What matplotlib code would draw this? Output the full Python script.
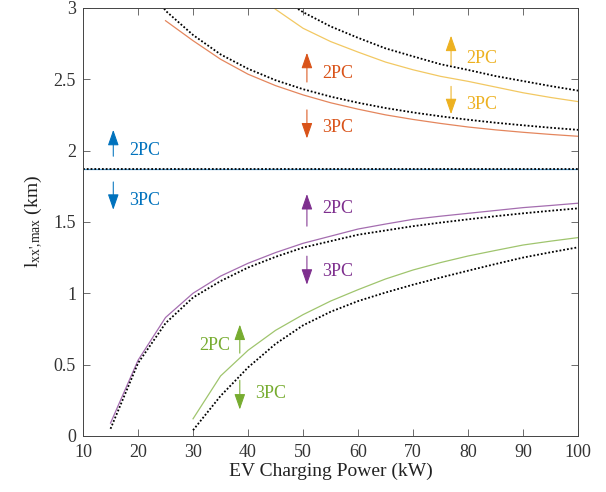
import matplotlib
matplotlib.use("Agg")
import matplotlib.pyplot as plt
import numpy as np

plt.rcParams["font.family"] = ["Liberation Serif", "DejaVu Serif"]
plt.rcParams["mathtext.fontset"] = "custom"
plt.rcParams["mathtext.rm"] = "Liberation Serif"
plt.rcParams["mathtext.it"] = "Liberation Serif:italic"

# EV charging power (kW), 5 kW steps
p_red = [25, 30, 35, 40, 45, 50, 55, 60, 65, 70, 75, 80, 85, 90, 95, 100]
red_2pc = [2.91, 2.77, 2.64, 2.535, 2.455, 2.39, 2.335, 2.29, 2.25, 2.218,
           2.19, 2.165, 2.145, 2.128, 2.113, 2.10]
p_red_dot = [20, 25, 30, 35, 40, 45, 50, 55, 60, 65, 70, 75, 80, 85, 90, 95, 100]
red_dot = [3.28, 2.98, 2.81, 2.674, 2.573, 2.493, 2.43, 2.378, 2.335, 2.298,
           2.267, 2.24, 2.216, 2.195, 2.177, 2.16, 2.145]

p_yel = [40, 45, 50, 55, 60, 65, 70, 75, 80, 85, 90, 95, 100]
yel_2pc = [3.15, 2.99, 2.857, 2.764, 2.69, 2.62, 2.566, 2.52, 2.485, 2.445,
           2.405, 2.372, 2.343]
p_yel_dot = [45, 50, 55, 60, 65, 70, 75, 80, 85, 90, 95, 100]
yel_dot = [3.09, 2.97, 2.87, 2.79, 2.716, 2.66, 2.605, 2.565, 2.522, 2.487,
           2.452, 2.42]

p_blue = [10, 100]
blue_level = [1.87, 1.87]

p_pur = [15, 20, 25, 30, 35, 40, 45, 50, 55, 60, 65, 70, 75, 80, 85, 90, 95, 100]
pur_2pc = [0.09, 0.53, 0.83, 1.00, 1.12, 1.21, 1.285, 1.35, 1.40, 1.45, 1.485,
           1.518, 1.54, 1.56, 1.58, 1.60, 1.615, 1.631]
pur_dot = [0.05, 0.51, 0.79, 0.97, 1.085, 1.18, 1.255, 1.32, 1.365, 1.41, 1.44,
           1.47, 1.495, 1.518, 1.54, 1.56, 1.578, 1.595]

p_grn = [30, 35, 40, 45, 50, 55, 60, 65, 70, 75, 80, 85, 90, 95, 100]
grn_2pc = [0.12, 0.42, 0.60, 0.74, 0.85, 0.945, 1.025, 1.10, 1.163, 1.215,
           1.261, 1.30, 1.338, 1.365, 1.39]
grn_dot = [0.04, 0.28, 0.48, 0.645, 0.775, 0.87, 0.945, 1.005, 1.06, 1.11,
           1.158, 1.205, 1.25, 1.287, 1.322]

BLUE = "#0072BD"
RED = "#D95319"
YEL = "#EDB120"
PUR = "#7E2F8E"
GRN = "#77AC30"

fig = plt.figure(figsize=(6.06, 4.92), dpi=100)
ax = fig.add_axes([0.137, 0.114, 0.817, 0.870])

solid_kw = dict(lw=0.9, alpha=0.7)
dot_kw = dict(color="black", ls=(0, (1, 1.1)), lw=1.3)

ax.plot(p_blue, blue_level, color=BLUE, **solid_kw)
ax.plot(p_blue, blue_level, **dot_kw)
ax.plot(p_red, red_2pc, color=RED, **solid_kw)
ax.plot(p_red_dot, red_dot, **dot_kw)
ax.plot(p_yel, yel_2pc, color=YEL, **solid_kw)
ax.plot(p_yel_dot, yel_dot, **dot_kw)
ax.plot(p_pur, pur_2pc, color=PUR, **solid_kw)
ax.plot(p_pur, pur_dot, **dot_kw)
ax.plot(p_grn, grn_2pc, color=GRN, **solid_kw)
ax.plot(p_grn, grn_dot, **dot_kw)


def region_arrow(x, y0, y1, color):
    # thin shaft, narrow pointed head
    ax.annotate("", xy=(x, y1), xytext=(x, y0),
                arrowprops=dict(arrowstyle="-|>,head_width=0.28,head_length=0.8",
                                mutation_scale=12, color=color, lw=0.75,
                                shrinkA=0, shrinkB=0))


region_arrow(15.5, 1.96, 2.145, BLUE)
region_arrow(15.5, 1.78, 1.585, BLUE)
ax.text(18.4, 2.0, "2PC", color=BLUE, fontsize=13, va="center")
ax.text(18.4, 1.65, "3PC", color=BLUE, fontsize=13, va="center")

region_arrow(50.7, 2.48, 2.685, RED)
region_arrow(50.7, 2.285, 2.085, RED)
ax.text(53.4, 2.54, "2PC", color=RED, fontsize=13, va="center")
ax.text(53.4, 2.16, "3PC", color=RED, fontsize=13, va="center")

region_arrow(76.9, 2.60, 2.805, YEL)
region_arrow(76.9, 2.45, 2.255, YEL)
ax.text(79.6, 2.645, "2PC", color=YEL, fontsize=13, va="center")
ax.text(79.6, 2.325, "3PC", color=YEL, fontsize=13, va="center")

region_arrow(50.7, 1.47, 1.695, PUR)
region_arrow(50.7, 1.26, 1.06, PUR)
ax.text(53.4, 1.595, "2PC", color=PUR, fontsize=13, va="center")
ax.text(53.4, 1.15, "3PC", color=PUR, fontsize=13, va="center")

region_arrow(38.5, 0.58, 0.78, GRN)
region_arrow(38.5, 0.39, 0.185, GRN)
ax.text(36.8, 0.633, "2PC", color=GRN, fontsize=13, va="center", ha="right")
ax.text(41.2, 0.30, "3PC", color=GRN, fontsize=13, va="center")

ax.set_xlim(10, 100)
ax.set_ylim(0, 3)
ax.set_xticks(np.arange(10, 101, 10))
ax.set_yticks([0, 0.5, 1, 1.5, 2, 2.5, 3])
ax.set_yticklabels(["0", "0.5", "1", "1.5", "2", "2.5", "3"])
ax.tick_params(direction="in", top=True, right=True, labelsize=13,
               color="#555555", labelcolor="#333333", length=5, width=0.6)
ax.tick_params(axis="x", pad=6)
ax.tick_params(axis="y", pad=5)
for s in ax.spines.values():
    s.set_color("#444444")
    s.set_linewidth(0.7)

ax.set_xlabel("EV Charging Power (kW)", fontsize=14, labelpad=1, color="#222222")
ax.set_ylabel(r"$\mathregular{l_{xx\text{'}{,}max}}$ (km)", fontsize=14,
              labelpad=6, color="#222222")

fig.savefig("out.png", dpi=100)
